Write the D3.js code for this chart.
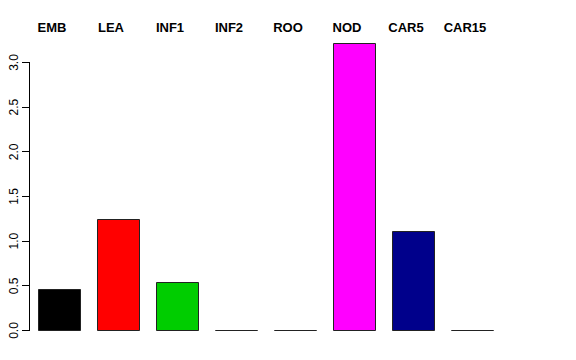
<!DOCTYPE html>
<html>
  <head>
    <meta charset="utf-8">
    <script src="https://d3js.org/d3.v7.min.js"></script>
    <style>
    body { margin: 0; background: #fff; }
    svg { font-family: 'Liberation Sans', Arial, sans-serif; }
    .ylab text { font-size: 12px; fill: #000; }
    .ylab line, .ylab path { stroke: #000; }
    .catlab { font-size: 13px; font-weight: bold; }
    </style>
  </head>
  <body>
    <script>

      // data
      var categories = ["EMB", "LEA", "INF1", "INF2", "ROO", "NOD", "CAR5", "CAR15"];
      var values = [0.46, 1.24, 0.54, 0, 0, 3.21, 1.11, 0];
      var colors = ["#000000", "#ff0000", "#00cd00", "#0000ff", "#00ffff", "#ff00ff", "#00008b", "#ffff00"];
      var yTicks = [0, 0.5, 1, 1.5, 2, 2.5, 3];

      // setup
      var w = 576, h = 360;
      var svg = d3.select("body").append("svg")
          .attr("width", w)
          .attr("height", h);

      var xScale = d3.scaleBand()
          .domain(categories)
          .range([38, 493])
          .paddingInner(0.288)
          .paddingOuter(0);
      var yScale = d3.scaleLinear().domain([0, 3]).range([330, 62]);

      // bars (paths so zero bars still show their outline)
      svg.append("g").selectAll("path")
          .data(values)
          .join("path")
          .attr("d", function(d, i) {
            var x0 = Math.round(xScale(categories[i])) + 0.5,
                x1 = x0 + Math.round(xScale.bandwidth()),
                y0 = Math.round(yScale(0)) + 0.5,
                y1 = Math.round(yScale(d)) + 0.5;
            return "M" + x0 + "," + y0 + "V" + y1 + "H" + x1 + "V" + y0 + "Z";
          })
          .attr("fill", function(d, i) { return colors[i]; })
          .attr("stroke", "#222")
          .attr("stroke-width", 1);

      // y axis
      var yAxis = d3.axisLeft(yScale)
          .tickValues(yTicks)
          .tickFormat(d3.format(".1f"))
          .tickSize(8)
          .tickSizeOuter(0)
          .tickPadding(4);
      var ag = svg.append("g")
          .attr("class", "ylab")
          .attr("transform", "translate(29.5,0)")
          .call(yAxis);
      ag.select(".domain").attr("d", "M0," + (Math.round(yScale(3)) + 0.5) + "V" + (Math.round(yScale(0)) + 0.5));
      ag.selectAll(".tick line").attr("shape-rendering", "crispEdges");
      ag.selectAll(".tick text")
          .attr("x", null).attr("dy", null)
          .attr("text-anchor", "middle")
          .attr("transform", "translate(-12,0) rotate(-90)")
          .attr("font-family", "'Liberation Sans', Arial, sans-serif");

      // category labels on top
      svg.append("g").selectAll("text")
          .data(categories)
          .join("text")
          .attr("class", "catlab")
          .attr("x", function(d) { return xScale(d) + xScale.bandwidth() / 2 - 7; })
          .attr("y", 32)
          .attr("text-anchor", "middle")
          .text(function(d) { return d; });

    </script>
  </body>
</html>
